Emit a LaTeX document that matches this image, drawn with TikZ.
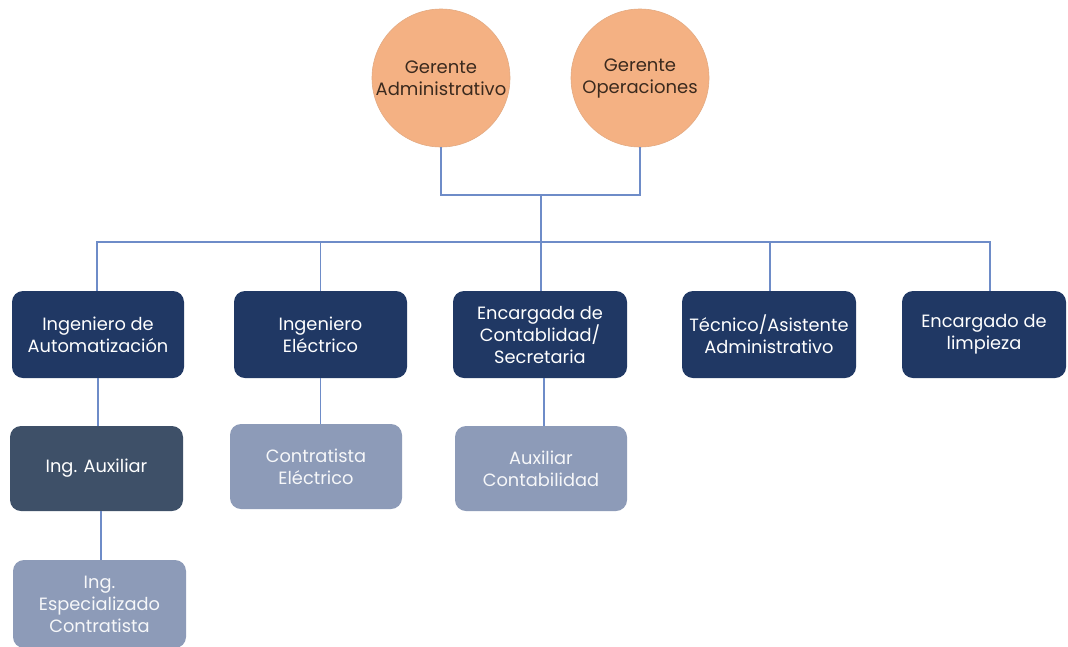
\documentclass[tikz,border=0pt]{standalone}
\usepackage{fontspec}
\setmainfont{Poppins}
\begin{document}
\begin{tikzpicture}[x=1pt,y=-1pt,
  conn/.style={draw=linecol,line width=1.3pt},
  circ/.style={circle,fill=peach,draw=peach!85!gray,line width=0.6pt,minimum size=138pt,inner sep=0pt,align=center,text=circtext,font=\fontsize{18}{22}\selectfont},
  darkbox/.style={rectangle,rounded corners=11pt,fill=navy,text=white,minimum width=172pt,minimum height=87pt,inner sep=1pt,align=center,font=\fontsize{17.8}{22}\selectfont},
  slatebox/.style={darkbox,fill=slate},
  lightbox/.style={darkbox,fill=lightblue,text=white!92!lightblue}
]
\definecolor{peach}{HTML}{F4B183}
\definecolor{circtext}{HTML}{3B2A1E}
\definecolor{navy}{HTML}{203864}
\definecolor{slate}{HTML}{3E5068}
\definecolor{lightblue}{HTML}{8D9BB8}
\definecolor{linecol}{HTML}{6E8CC8}
\useasboundingbox (0,0) rectangle (1068,646);
\fill[white] (0,0) rectangle (1068,646);

\node[circ] (ga) at (441,78) {Gerente\\Administrativo};
\node[circ] (go) at (640,78) {Gerente\\Operaciones};

\node[darkbox] (b1) at (98,334.5) {Ingeniero de\\Automatización};
\node[darkbox,minimum width=173pt] (b2) at (320.5,334.5) {Ingeniero\\Eléctrico};
\node[darkbox,minimum width=174pt] (b3) at (540,334.5) {Encargada de\\Contablidad/\\Secretaria};
\node[darkbox,minimum width=174pt] (b4) at (769,334.5) {Técnico/Asistente\\Administrativo};
\node[darkbox,minimum width=164pt] (b5) at (984,334.5) {Encargado de\\limpieza};

\node[slatebox,minimum width=173pt,minimum height=85pt] (c1) at (96.5,468.5) {Ing. Auxiliar};
\node[lightbox,minimum width=172pt,minimum height=85pt] (c2) at (316,466.5) {Contratista\\Eléctrico};
\node[lightbox,minimum width=172pt,minimum height=85pt] (c3) at (541,468.5) {Auxiliar\\Contabilidad};

\node[lightbox,minimum width=173pt,minimum height=88pt] (d1) at (99.5,604) {Ing.\\Especializado\\Contratista};

\coordinate (jn) at (541,195);
\coordinate (bus) at (541,242);

\draw[conn] (ga.south) |- (jn) -| (go.south);
\draw[conn] (jn) -- (bus);
\draw[conn] ([xshift=-1pt]b1.north) |- (bus);
\draw[conn] (b2.north) |- (bus);
\draw[conn] ([xshift=1pt]b3.north) -- (bus);
\draw[conn] ([xshift=1pt]b4.north) |- (bus);
\draw[conn] ([xshift=6pt]b5.north) |- (bus);

\draw[conn] (b1.south) -- (b1.south |- c1.north);
\draw[conn] (b2.south) -- (b2.south |- c2.north);
\draw[conn] ([xshift=4pt]b3.south) -- ([xshift=4pt]b3.south |- c3.north);
\draw[conn] ([xshift=4.5pt]c1.south) -- ([xshift=4.5pt]c1.south |- d1.north);
\end{tikzpicture}
\end{document}
